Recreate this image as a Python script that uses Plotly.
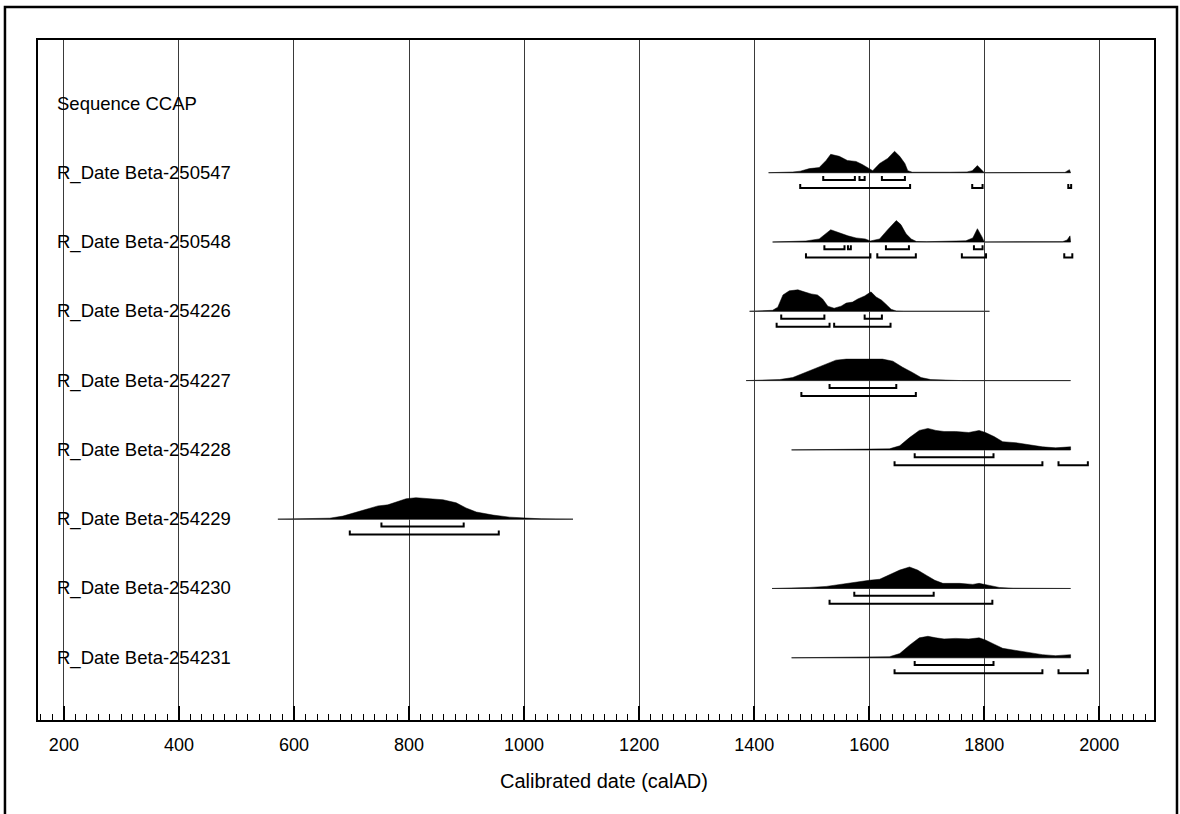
import plotly.graph_objects as go

# ---------------- data ----------------
labels = ["Sequence CCAP", "R_Date Beta-250547", "R_Date Beta-250548", "R_Date Beta-254226",
          "R_Date Beta-254227", "R_Date Beta-254228", "R_Date Beta-254229",
          "R_Date Beta-254230", "R_Date Beta-254231"]

x_ticks = [200, 400, 600, 800, 1000, 1200, 1400, 1600, 1800, 2000]

# Calibrated probability curves (year, relative probability)
yr_250547 = [1425, 1450, 1467, 1480, 1496, 1513, 1525, 1533, 1548, 1562, 1577, 1588, 1600, 1606,
             1618, 1632, 1644, 1653, 1662, 1667, 1675, 1700, 1740, 1770, 1779, 1788, 1796, 1800,
             1940, 1948, 1950]
p_250547 = [0, 0.3, 0.7, 1.5, 4, 5, 12, 18, 16, 12, 11, 8, 4, 2,
            9, 14, 21, 16, 9, 2, 0.5, 0.3, 0.5, 0.8, 2, 7, 2, 0,
            0.3, 3, 0]

yr_250548 = [1432, 1470, 1490, 1513, 1525, 1533, 1548, 1563, 1577, 1593, 1602, 1618, 1632, 1647,
             1655, 1664, 1673, 1682, 1700, 1733, 1755, 1768, 1780, 1788, 1796, 1800,
             1936, 1944, 1949, 1950]
p_250548 = [0, 0.5, 1, 3, 8, 12, 9, 6, 4, 3, 1, 3, 12, 21,
            17, 8, 3, 0.5, 0.3, 1, 1, 1.2, 4, 13, 5, 0,
            0.3, 2, 6, 0]

yr_254226 = [1392, 1420, 1432, 1441, 1450, 1461, 1476, 1487, 1499, 1510, 1519, 1528, 1539, 1551,
             1560, 1571, 1580, 1592, 1603, 1612, 1621, 1629, 1638, 1647, 1660, 1809]
p_254226 = [0, 0.3, 1, 4, 16, 20, 21, 19, 17, 16, 12, 5, 3, 5,
            8, 9, 12, 15, 19, 14, 11, 7, 2, 0.3, 0, 0]

yr_254227 = [1386, 1420, 1444, 1467, 1490, 1513, 1531, 1542, 1560, 1623, 1641, 1658, 1675, 1690,
             1707, 1730, 1760, 1950]
p_254227 = [0, 0.3, 1, 3, 8, 13, 17, 20, 21, 21, 19, 13, 8, 3,
            1, 0.3, 0, 0]

yr_254228 = [1465, 1550, 1600, 1635, 1653, 1670, 1687, 1702, 1716, 1730, 1750, 1773, 1791, 1802,
             1817, 1832, 1855, 1878, 1901, 1924, 1947, 1950]
p_254228 = [0, 0.2, 0.5, 1, 4, 12, 19, 21, 19, 18, 18, 17, 19, 17,
            13, 8, 7, 5, 3, 2, 3, 3]

yr_254229 = [572, 630, 662, 685, 708, 731, 746, 763, 778, 795, 812, 836, 859, 882,
             899, 917, 946, 975, 998, 1030, 1085]
p_254229 = [0, 0.3, 1, 3, 7, 11, 13, 14, 17, 20, 21, 20, 19, 16,
            11, 7, 4, 2, 1, 0.3, 0]

yr_254230 = [1431, 1470, 1496, 1525, 1548, 1571, 1600, 1618, 1635, 1653, 1670, 1684, 1699, 1714,
             1728, 1757, 1780, 1791, 1809, 1826, 1850, 1890, 1950]
p_254230 = [0, 0.3, 1, 2, 4, 6, 8, 9, 13, 18, 21, 18, 13, 8,
            5, 5, 4, 5, 3, 1, 0.3, 0, 0]

yr_254231 = [1465, 1550, 1600, 1635, 1653, 1670, 1687, 1702, 1716, 1730, 1750, 1773, 1791, 1802,
             1817, 1832, 1855, 1878, 1901, 1924, 1947, 1950]
p_254231 = [0, 0.2, 0.5, 1, 4, 12, 19, 20.5, 19, 18, 18.5, 18, 19, 17,
            13, 9, 7, 5, 3, 2, 3, 3]

# highest posterior density ranges (68.2% and 95.4%)
r68_250547 = [(1520, 1575), (1583, 1592), (1622, 1662)]
r95_250547 = [(1480, 1671), (1779, 1797), (1946, 1951)]
r68_250548 = [(1522, 1557), (1563, 1568), (1629, 1669), (1782, 1797)]
r95_250548 = [(1490, 1602), (1614, 1681), (1761, 1803), (1939, 1953)]
r68_254226 = [(1447, 1522), (1592, 1622)]
r95_254226 = [(1439, 1531), (1539, 1637)]
r68_254227 = [(1531, 1647)]
r95_254227 = [(1482, 1681)]
r68_254228 = [(1679, 1816)]
r95_254228 = [(1644, 1901), (1929, 1980)]
r68_254229 = [(752, 895)]
r95_254229 = [(697, 956)]
r68_254230 = [(1574, 1712)]
r95_254230 = [(1531, 1814)]
r68_254231 = [(1679, 1816)]
r95_254231 = [(1644, 1901), (1929, 1980)]

samples = [
    (yr_250547, p_250547, r68_250547, r95_250547),
    (yr_250548, p_250548, r68_250548, r95_250548),
    (yr_254226, p_254226, r68_254226, r95_254226),
    (yr_254227, p_254227, r68_254227, r95_254227),
    (yr_254228, p_254228, r68_254228, r95_254228),
    (yr_254229, p_254229, r68_254229, r95_254229),
    (yr_254230, p_254230, r68_254230, r95_254230),
    (yr_254231, p_254231, r68_254231, r95_254231),
]

# ---------------- style ----------------
PEAK = 0.31       # height of distribution peak, in row units
OFF68 = 0.106
OFF95 = 0.222
TICK = 0.058
FONT = "Liberation Sans, Arial, Helvetica, sans-serif"

fig = go.Figure()

for i, (yrs, p, r68, r95) in enumerate(samples):
    base = -(i + 1)
    pmax = max(p)
    # baseline
    fig.add_trace(go.Scatter(x=[yrs[0], yrs[-1]], y=[base, base], mode="lines",
                             line=dict(color="#a0a0a0", width=1), hoverinfo="skip",
                             showlegend=False))
    # filled distribution
    xs = list(yrs) + [yrs[-1], yrs[0]]
    ys = [base + v / pmax * PEAK for v in p] + [base, base]
    fig.add_trace(go.Scatter(x=xs, y=ys, mode="lines", fill="toself",
                             fillcolor="black", line=dict(color="black", width=0.5),
                             hoverinfo="skip", showlegend=False))
    # brackets
    bx, by = [], []
    for off, rng in ((OFF68, r68), (OFF95, r95)):
        yb = base - off
        for s, e in rng:
            bx += [s, s, e, e, None]
            by += [yb + TICK, yb, yb, yb + TICK, None]
    fig.add_trace(go.Scatter(x=bx, y=by, mode="lines",
                             line=dict(color="black", width=2), hoverinfo="skip",
                             showlegend=False))

# row labels
for k, lab in enumerate(labels):
    fig.add_annotation(text=lab, xref="paper", x=0.0152, xanchor="left",
                       yref="y", y=-k, yanchor="middle", showarrow=False,
                       font=dict(family=FONT, size=18.5, color="black"))

# axis title
fig.add_annotation(text="Calibrated date (calAD)", xref="paper", x=0.5075, xanchor="center",
                   yref="paper", y=-0.0897, yanchor="middle", showarrow=False,
                   font=dict(family=FONT, size=20, color="black"))

# outer frame
fig.add_shape(type="rect", xref="paper", yref="paper",
              x0=-0.0296, x1=1.0206, y0=-0.17, y1=1.0485,
              line=dict(color="black", width=2.5), fillcolor="rgba(0,0,0,0)")

fig.update_xaxes(range=[155, 2095], tickvals=x_ticks, ticktext=[str(v) for v in x_ticks],
                 ticks="inside", ticklen=14, tickwidth=2, tickcolor="black",
                 showgrid=True, gridcolor="#3a3a3a", gridwidth=1.3,
                 showline=True, linecolor="black", linewidth=2, mirror=True,
                 zeroline=False, ticklabelstandoff=7,
                 tickfont=dict(family=FONT, size=18, color="black"),
                 minor=dict(dtick=20, tick0=0, ticks="inside", ticklen=6, tickwidth=1,
                            tickcolor="black", showgrid=False))
fig.update_yaxes(range=[-8.898, 0.915], showgrid=False, zeroline=False,
                 showticklabels=False, ticks="",
                 showline=True, linecolor="black", linewidth=2, mirror=True)

fig.update_layout(width=1180, height=814,
                  margin=dict(l=38, r=26, t=40, b=94),
                  plot_bgcolor="white", paper_bgcolor="white",
                  showlegend=False)

fig.write_html("out.html")
